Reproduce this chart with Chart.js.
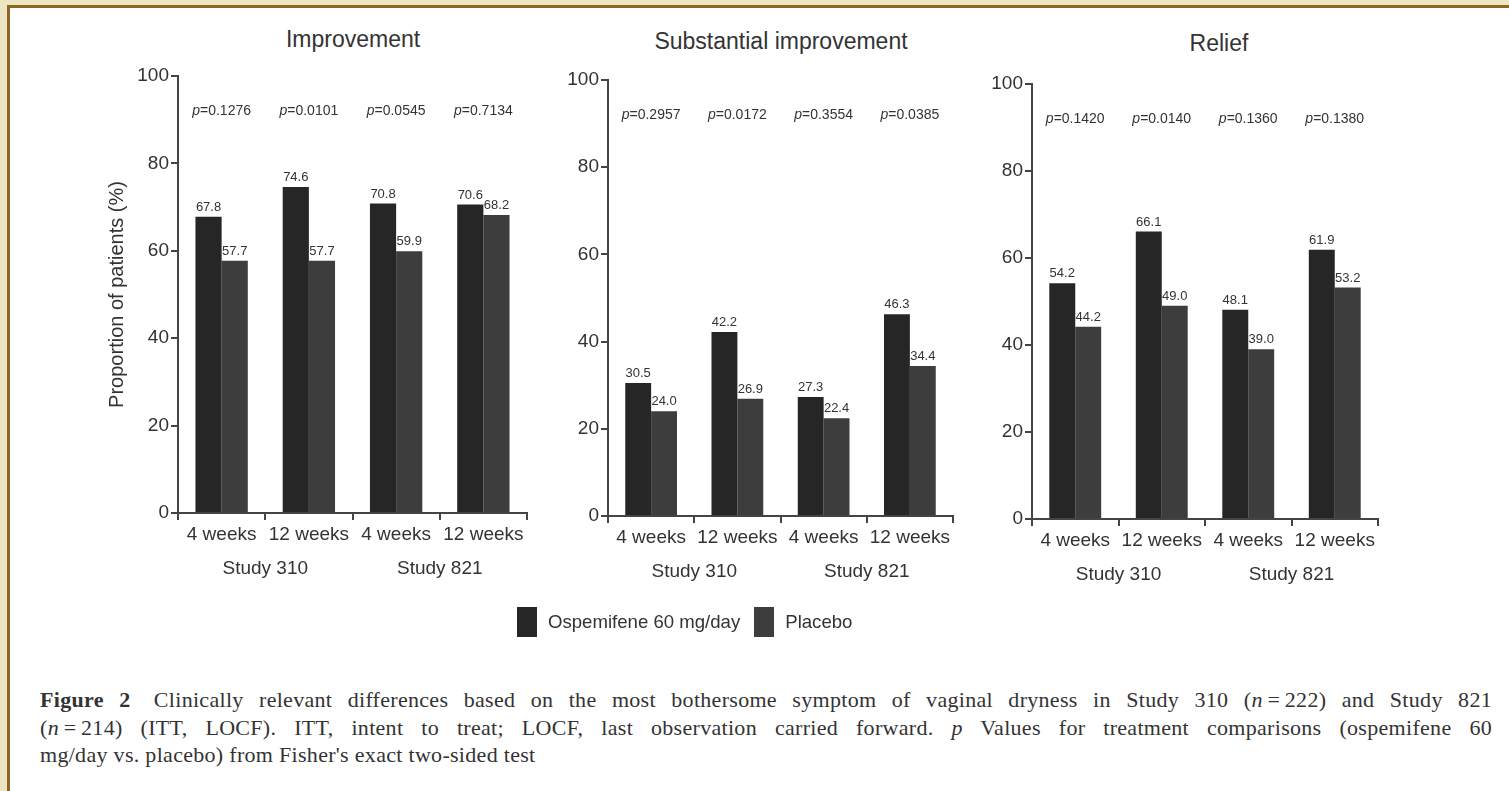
<!DOCTYPE html>
<html>
<head>
<meta charset="utf-8">
<script src="https://cdn.jsdelivr.net/npm/chart.js@4.4.1/dist/chart.umd.min.js"></script>
<style>
  html, body { margin: 0; padding: 0; }
  body { width: 1509px; height: 791px; background: #ece4c2; position: relative; overflow: hidden;
         font-family: "Liberation Sans", Arial, sans-serif; color: #333; }
  #sheet { position: absolute; left: 7px; top: 5px; right: 0; bottom: 0; background: #fff;
           border-left: 3px solid #8f6425; border-top: 3px solid #8f6425; }
  canvas { position: absolute; }
  .ptitle { position: absolute; font-size: 23px; color: #333; transform: translateX(-50%); white-space: nowrap; }
  #legend { position: absolute; left: 517px; top: 607px; display: flex; align-items: center; font-size: 18.6px; color: #333; }
  #legend .sw { width: 20px; height: 30px; margin-right: 11px; }
  #caption { position: absolute; left: 40px; top: 686px; width: 1452px; font-family: "Liberation Serif", "Times New Roman", serif;
             font-size: 22px; letter-spacing: 0.3px; line-height: 27.5px; color: #333; white-space: nowrap; }
  #caption .j { text-align: justify; text-align-last: justify; white-space: normal; }
  #caption b { margin-right: 8px; }
</style>
</head>
<body>
<div id="sheet"></div>
<div class="ptitle" style="left:353px; top:26px;">Improvement</div>
<div class="ptitle" style="left:781px; top:28px;">Substantial improvement</div>
<div class="ptitle" style="left:1219px; top:30px;">Relief</div>
<canvas id="c1"></canvas>
<canvas id="c2"></canvas>
<canvas id="c3"></canvas>
<div id="legend"></div>
<div id="caption">
  <div class="j"><b>Figure 2</b> Clinically relevant differences based on the most bothersome symptom of vaginal dryness in Study 310 (<i>n</i>&#8201;=&#8201;222) and Study 821</div>
  <div class="j">(<i>n</i>&#8201;=&#8201;214) (ITT, LOCF). ITT, intent to treat; LOCF, last observation carried forward. <i>p</i> Values for treatment comparisons (ospemifene 60</div>
  <div>mg/day vs. placebo) from Fisher's exact two-sided test</div>
</div>
<script>
// categories and tick labels
const weeks = ["4 weeks", "12 weeks", "4 weeks", "12 weeks"];
const studies = ["Study 310", "Study 821"];
const yTicks = [0, 20, 40, 60, 80, 100];
const seriesNames = ["Ospemifene 60 mg/day", "Placebo"];
const seriesColors = ["#262626", "#3d3d3d"];

// Improvement
const ospImprovement = [67.8, 74.6, 70.8, 70.6];
const plaImprovement = [57.7, 57.7, 59.9, 68.2];
const pImprovement = ["0.1276", "0.0101", "0.0545", "0.7134"];

// Substantial improvement
const ospSubstantial = [30.5, 42.2, 27.3, 46.3];
const plaSubstantial = [24.0, 26.9, 22.4, 34.4];
const pSubstantial = ["0.2957", "0.0172", "0.3554", "0.0385"];

// Relief
const ospRelief = [54.2, 66.1, 48.1, 61.9];
const plaRelief = [44.2, 49.0, 39.0, 53.2];
const pRelief = ["0.1420", "0.0140", "0.1360", "0.1380"];

Chart.defaults.font.family = '"Liberation Sans", Arial, sans-serif';
Chart.defaults.color = "#333";

// value labels over bars + p values across the top
const annotate = {
    id: "annotate",
    afterDatasetsDraw(chart) {
        const ctx = chart.ctx;
        ctx.save();
        ctx.fillStyle = "#333";
        ctx.font = '13px "Liberation Sans", Arial, sans-serif';
        ctx.textAlign = "center";
        ctx.textBaseline = "bottom";
        chart.data.datasets.forEach((ds, di) => {
            chart.getDatasetMeta(di).data.forEach((bar, i) => {
                ctx.fillText(ds.data[i].toFixed(1), bar.x, bar.y - 3);
            });
        });
        const pv = chart.options.plugins.annotate.pvalues;
        const xs = chart.scales.x, ys = chart.scales.y;
        ctx.textBaseline = "middle";
        ctx.textAlign = "left";
        pv.forEach((p, i) => {
            const rest = "=" + p;
            ctx.font = 'italic 14px "Liberation Sans", Arial, sans-serif';
            const w1 = ctx.measureText("p").width;
            ctx.font = '14px "Liberation Sans", Arial, sans-serif';
            const w2 = ctx.measureText(rest).width;
            const x0 = xs.getPixelForValue(i) - (w1 + w2) / 2;
            const y = ys.getPixelForValue(92);
            ctx.font = 'italic 14px "Liberation Sans", Arial, sans-serif';
            ctx.fillText("p", x0, y);
            ctx.font = '14px "Liberation Sans", Arial, sans-serif';
            ctx.fillText(rest, x0 + w1, y);
        });
        ctx.restore();
    }
};

function makePanel(id, osp, pla, pvals, showTitle, box) {
    const canvas = document.getElementById(id);
    canvas.width = box.width;
    canvas.height = box.height;
    canvas.style.left = box.left + "px";
    canvas.style.top = box.top + "px";
    return new Chart(canvas, {
        type: "bar",
        data: {
            labels: weeks,
            datasets: [
                { label: seriesNames[0], data: osp, backgroundColor: seriesColors[0] },
                { label: seriesNames[1], data: pla, backgroundColor: seriesColors[1] }
            ]
        },
        options: {
            responsive: false,
            animation: false,
            devicePixelRatio: 1,
            categoryPercentage: 0.6,
            barPercentage: 1.0,
            layout: { padding: { left: 0, right: box.padRight, top: box.padTop, bottom: box.padBottom } },
            plugins: {
                legend: { display: false },
                tooltip: { enabled: false },
                annotate: { pvalues: pvals }
            },
            scales: {
                x: {
                    type: "category",
                    labels: weeks,
                    offset: true,
                    grid: { display: true, drawOnChartArea: false, drawTicks: true, tickLength: 7, color: "#444", lineWidth: 2, offset: true },
                    border: { display: true, color: "#444", width: 2 },
                    ticks: { font: { size: 19 }, color: "#333", padding: 3, maxRotation: 0, autoSkip: false },
                    afterFit: s => { s.height = 32; }
                },
                x2: {
                    type: "category",
                    labels: studies,
                    position: "bottom",
                    offset: true,
                    grid: { display: false, drawTicks: false },
                    border: { display: false },
                    ticks: { font: { size: 19 }, color: "#333", padding: 12, maxRotation: 0 },
                    afterFit: s => { s.height = 40; }
                },
                y: {
                    min: 0,
                    max: 100,
                    afterBuildTicks: s => { s.ticks = yTicks.map(v => ({ value: v })); },
                    grid: { drawOnChartArea: false, drawTicks: true, tickLength: 7, color: "#444", lineWidth: 2 },
                    border: { display: true, color: "#444", width: 2 },
                    ticks: { font: { size: 19 }, color: "#333", padding: 2 },
                    title: { display: showTitle, text: "Proportion of patients (%)", font: { size: 20 }, color: "#333", padding: { top: 0, bottom: 0 } },
                    afterFit: s => { s.width = 73; }
                }
            }
        },
        plugins: [annotate]
    });
}

// panel boxes: canvas placement and padding so plot areas line up with the figure
makePanel("c1", ospImprovement, plaImprovement, pImprovement, true,
    { left: 105, top: 60, width: 437, height: 560, padRight: 15, padTop: 16, padBottom: 35 });
makePanel("c2", ospSubstantial, plaSubstantial, pSubstantial, false,
    { left: 535, top: 60, width: 433, height: 560, padRight: 15, padTop: 20, padBottom: 32 });
makePanel("c3", ospRelief, plaRelief, pRelief, false,
    { left: 959, top: 60, width: 434, height: 560, padRight: 15, padTop: 24, padBottom: 29 });

// legend
const legend = document.getElementById("legend");
seriesNames.forEach((name, i) => {
    const sw = document.createElement("div");
    sw.className = "sw";
    sw.style.background = seriesColors[i];
    const tx = document.createElement("span");
    tx.textContent = name;
    tx.style.marginRight = i === 0 ? "14px" : "0";
    legend.appendChild(sw);
    legend.appendChild(tx);
});
</script>
</body>
</html>
